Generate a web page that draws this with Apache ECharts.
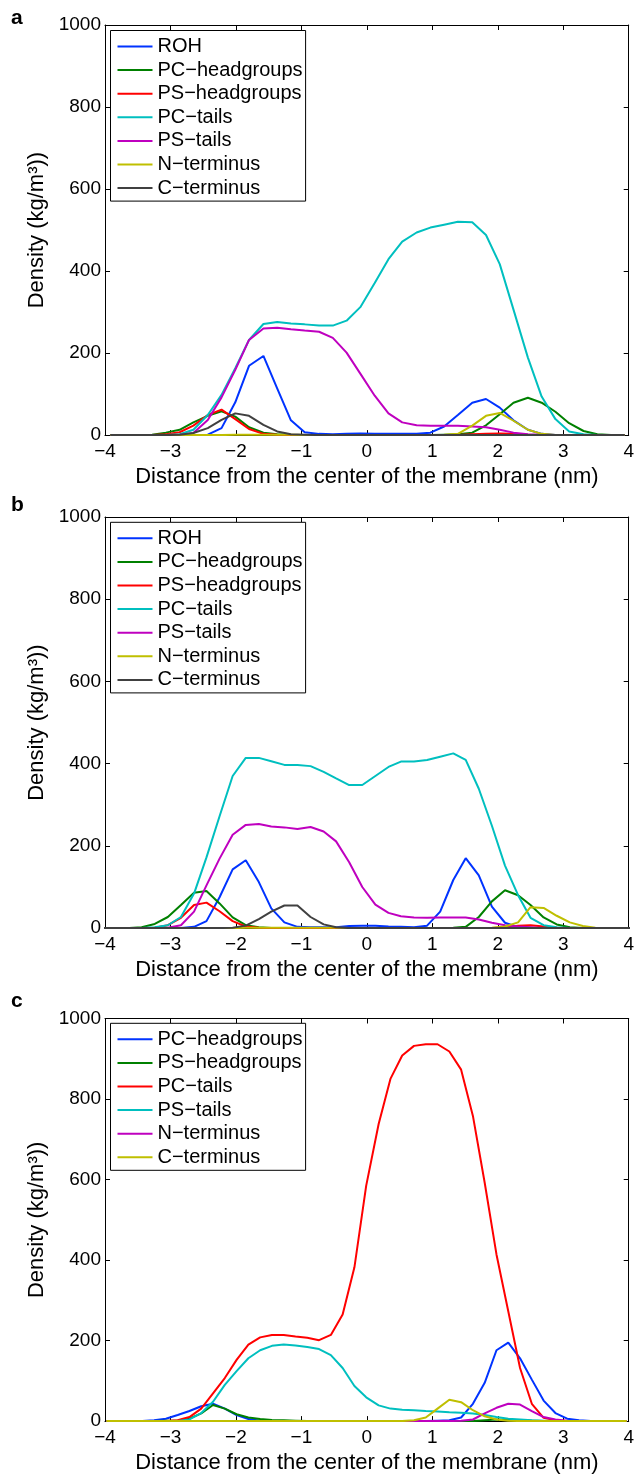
<!DOCTYPE html>
<html>
<head>
<meta charset="utf-8">
<script src="https://cdn.jsdelivr.net/npm/echarts@6/dist/echarts.min.js"></script>
<style>
  html, body { margin: 0; padding: 0; background: #fff; }
  .panel { position: absolute; left: 0; width: 637px; height: 493px; }
</style>
</head>
<body>
<div id="pa" class="panel" style="top:0"></div>
<div id="pb" class="panel" style="top:493px"></div>
<div id="pc" class="panel" style="top:986px"></div>
<script>
// ---- panel a ----
const xA = [-3.92, -3.71, -3.50, -3.28, -3.07, -2.86, -2.65, -2.43, -2.22, -2.01, -1.80, -1.58, -1.37, -1.16, -0.95, -0.73, -0.52, -0.31, -0.10, 0.12, 0.33, 0.54, 0.76, 0.97, 1.18, 1.39, 1.61, 1.82, 2.03, 2.24, 2.46, 2.67, 2.88, 3.09, 3.31, 3.52, 3.73, 3.94];
const rohA    = [0,0,0,0,0,0,0,1,17,80,169,193,114,36,7,3,2,3,4,3,3,3,3,6,21,49,79,88,67,36,13,3,0,0,0,0,0,0];
const pcHeadA = [0,0,0,1,6,13,31,47,58,45,19,6,2,0,0,0,0,0,0,0,0,0,0,0,1,2,6,24,51,79,91,79,57,29,10,2,0,0];
const psHeadA = [0,0,0,0,2,7,23,49,62,39,15,3,1,0,0,0,0,0,0,0,0,0,0,0,0,0,2,3,4,3,1,0,0,0,0,0,0,0];
const pcTailA = [0,0,0,0,0,2,13,49,98,163,232,271,276,272,270,267,267,279,312,371,429,472,494,506,513,520,519,488,417,306,189,94,39,9,2,0,0,0];
const psTailA = [0,0,0,0,0,0,5,37,92,159,232,260,262,258,255,252,237,201,150,96,53,31,24,23,23,23,21,19,13,6,2,1,0,0,0,0,0,0];
const nTermA  = [0,0,0,0,0,0,0,0,0,1,1,1,1,1,0,0,0,0,0,0,0,0,0,0,1,3,23,47,54,35,13,3,0,0,0,0,0,0];
const cTermA  = [0,0,0,0,0,1,5,17,37,53,47,25,9,2,1,0,0,0,0,0,0,0,0,0,0,0,0,0,0,0,0,0,0,0,0,0,0,0];

// ---- panel b ----
const xB = [-4.03, -3.83, -3.63, -3.44, -3.24, -3.04, -2.84, -2.64, -2.45, -2.25, -2.05, -1.85, -1.65, -1.46, -1.26, -1.06, -0.86, -0.66, -0.47, -0.27, -0.07, 0.13, 0.33, 0.52, 0.72, 0.92, 1.12, 1.32, 1.51, 1.71, 1.91, 2.11, 2.31, 2.50, 2.70, 2.90, 3.10, 3.30, 3.49, 3.69, 3.89, 4.09];
const rohB    = [0,0,0,0,0,0,0,3,17,75,143,165,112,48,14,3,2,2,2,5,6,6,4,3,2,6,40,117,170,128,52,13,2,0,0,0,0,0,0,0,0,0];
const pcHeadB = [0,0,0,2,10,27,56,86,90,60,26,7,2,0,0,0,0,0,0,0,0,0,0,0,0,0,0,1,3,27,65,92,80,56,26,9,2,0,0,0,0,0];
const psHeadB = [0,0,0,0,1,7,25,56,62,41,17,4,1,0,0,0,0,0,0,0,0,0,0,0,0,0,0,0,0,0,0,2,6,7,4,1,0,0,0,0,0,0];
const pcTailB = [0,0,0,0,2,7,27,84,172,272,370,414,414,406,397,397,394,380,364,348,348,370,392,405,405,409,417,425,409,339,249,152,80,25,7,2,0,0,0,0,0,0];
const psTailB = [0,0,0,0,0,1,7,40,104,169,227,251,253,247,245,241,246,235,211,160,100,57,37,29,26,25,26,26,26,21,13,7,4,2,0,0,0,0,0,0,0,0];
const nTermB  = [0,0,0,0,0,0,0,0,0,0,0,1,1,1,1,1,1,1,1,0,0,0,0,0,0,0,0,0,0,0,1,4,14,51,49,30,14,5,1,0,0,0];
const cTermB  = [0,0,0,0,0,0,0,0,0,0,1,6,22,40,55,55,27,9,2,0,0,0,0,0,0,0,0,0,0,0,0,0,0,0,0,0,0,0,0,0,0,0];

// ---- panel c ----
const xC = [-3.98, -3.80, -3.62, -3.43, -3.25, -3.07, -2.89, -2.71, -2.53, -2.35, -2.17, -1.99, -1.81, -1.63, -1.45, -1.27, -1.09, -0.91, -0.73, -0.55, -0.37, -0.19, -0.01, 0.18, 0.36, 0.54, 0.72, 0.90, 1.08, 1.26, 1.44, 1.62, 1.80, 1.98, 2.16, 2.34, 2.52, 2.70, 2.88, 3.06, 3.24, 3.42, 3.60, 3.79, 3.97];
const pcHeadC = [0,0,0,0,2,6,15,25,37,43,31,15,5,1,0,0,0,0,0,0,0,0,0,0,0,0,0,0,1,2,9,43,95,176,195,156,103,51,20,6,2,0,0,0,0];
const psHeadC = [0,0,0,0,0,1,1,6,19,40,31,17,9,5,3,2,1,0,0,0,0,0,0,0,0,0,0,0,0,0,0,0,2,4,3,2,1,0,0,0,0,0,0,0,0];
const pcTailC = [0,0,0,0,0,0,2,10,31,69,107,152,190,208,214,214,210,207,201,214,265,382,585,738,850,908,932,936,936,918,873,758,592,414,273,132,43,8,2,0,0,0,0,0,0];
const psTailC = [0,0,0,0,0,0,0,4,20,48,90,124,156,176,187,190,188,184,179,164,132,87,59,39,31,28,27,25,24,22,21,19,15,10,6,4,2,1,0,0,0,0,0,0,0];
const nTermC  = [0,0,0,0,0,0,0,0,0,0,0,0,0,0,0,0,0,0,0,0,0,0,0,0,0,0,0,0,0,0,1,4,19,33,43,41,25,10,4,1,0,0,0,0,0];
const cTermC  = [0,0,0,0,0,0,0,0,0,0,0,0,0,0,0,0,0,0,0,0,0,0,0,0,0,0,2,9,31,53,47,27,12,4,1,0,0,0,0,0,0,0,0,0,0];

const xTicks = [-4, -3, -2, -1, 0, 1, 2, 3, 4];
const yTicks = [0, 200, 400, 600, 800, 1000];

// MATLAB-like colour order
const C_BLUE = '#0033ff', C_GREEN = '#008000', C_RED = '#ff0000', C_CYAN = '#00bfbf',
      C_MAG = '#bf00bf', C_YEL = '#bfbf00', C_GRAY = '#404040';

const FONT = 'Liberation Sans, Arial, Helvetica, sans-serif';
const M = '\u2212';

function minus(v) {
	return String(v).replace('-', M);
}

function axisCommon() {
	return {
		axisLine: { onZero: false, lineStyle: { color: '#000', width: 1 } },
		axisTick: { inside: true, length: 5, lineStyle: { color: '#000', width: 1 } },
		splitLine: { show: false },
	};
}

function drawPanel(id, p) {
	let chart = echarts.init(document.getElementById(id));
	let xMin = xTicks[0], xMax = xTicks[xTicks.length - 1];
	let yMin = yTicks[0], yMax = yTicks[yTicks.length - 1];
	let option = {
		animation: false,
		textStyle: { fontFamily: FONT },
		grid: { left: 105, width: 524, top: p.top, height: p.height },
		xAxis: [
			Object.assign(axisCommon(), {
				type: 'value', min: xMin, max: xMax, interval: 1, position: 'bottom',
				axisLabel: { fontSize: 19, color: '#000', margin: 7, fontFamily: FONT, formatter: minus },
				name: 'Distance from the center of the membrane (nm)',
				nameLocation: 'middle', nameGap: 23,
				nameTextStyle: { fontSize: 22, color: '#000', fontFamily: FONT },
			}),
			Object.assign(axisCommon(), {
				type: 'value', min: xMin, max: xMax, interval: 1, position: 'top',
				axisLabel: { show: false },
			}),
		],
		yAxis: [
			Object.assign(axisCommon(), {
				type: 'value', min: yMin, max: yMax, interval: 200, position: 'left',
				axisLabel: { fontSize: 19, color: '#000', margin: 4, fontFamily: FONT, formatter: v => String(v) },
				name: 'Density (kg/m\u00b3))',
				nameLocation: 'middle', nameGap: 40, nameRotate: 90,
				nameTextStyle: { fontSize: 22, color: '#000', fontFamily: FONT },
			}),
			Object.assign(axisCommon(), {
				type: 'value', min: yMin, max: yMax, interval: 200, position: 'right',
				axisLabel: { show: false },
			}),
		],
		legend: {
			orient: 'vertical',
			left: 110.5,
			top: p.legendTop,
			icon: 'rect',
			itemWidth: 35,
			itemHeight: 2,
			itemGap: 3.6,
			padding: [6, 3, 3, 7],
			borderColor: '#000',
			borderWidth: 1,
			backgroundColor: '#fff',
			textStyle: { fontSize: 20, lineHeight: 20, color: '#000', fontFamily: FONT },
			data: p.series.map(s => s.name),
		},
		graphic: [
			{
				type: 'text', left: 11, top: p.letterTop,
				style: { text: p.letter, font: 'bold 21px ' + FONT, fill: '#000' },
			},
		],
		series: p.series.map(s => ({
			name: s.name,
			type: 'line',
			symbol: 'none',
			showSymbol: false,
			data: p.xs.map((x, i) => [x, s.values[i]]),
			lineStyle: { width: 2, color: s.color },
			itemStyle: { color: s.color },
			emphasis: { disabled: true },
		})),
	};
	chart.setOption(option);
}

drawPanel('pa', {
	letter: 'a', letterTop: 8, top: 25, height: 412, legendTop: 30.5, xs: xA,
	series: [
		{ name: 'ROH', values: rohA, color: C_BLUE },
		{ name: 'PC' + M + 'headgroups', values: pcHeadA, color: C_GREEN },
		{ name: 'PS' + M + 'headgroups', values: psHeadA, color: C_RED },
		{ name: 'PC' + M + 'tails', values: pcTailA, color: C_CYAN },
		{ name: 'PS' + M + 'tails', values: psTailA, color: C_MAG },
		{ name: 'N' + M + 'terminus', values: nTermA, color: C_YEL },
		{ name: 'C' + M + 'terminus', values: cTermA, color: C_GRAY },
	],
});

drawPanel('pb', {
	letter: 'b', letterTop: 2, top: 24, height: 413, legendTop: 29.3, xs: xB,
	series: [
		{ name: 'ROH', values: rohB, color: C_BLUE },
		{ name: 'PC' + M + 'headgroups', values: pcHeadB, color: C_GREEN },
		{ name: 'PS' + M + 'headgroups', values: psHeadB, color: C_RED },
		{ name: 'PC' + M + 'tails', values: pcTailB, color: C_CYAN },
		{ name: 'PS' + M + 'tails', values: psTailB, color: C_MAG },
		{ name: 'N' + M + 'terminus', values: nTermB, color: C_YEL },
		{ name: 'C' + M + 'terminus', values: cTermB, color: C_GRAY },
	],
});

drawPanel('pc', {
	letter: 'c', letterTop: 5, top: 32.5, height: 412.5, legendTop: 37.3, xs: xC,
	series: [
		{ name: 'PC' + M + 'headgroups', values: pcHeadC, color: C_BLUE },
		{ name: 'PS' + M + 'headgroups', values: psHeadC, color: C_GREEN },
		{ name: 'PC' + M + 'tails', values: pcTailC, color: C_RED },
		{ name: 'PS' + M + 'tails', values: psTailC, color: C_CYAN },
		{ name: 'N' + M + 'terminus', values: nTermC, color: C_MAG },
		{ name: 'C' + M + 'terminus', values: cTermC, color: C_YEL },
	],
});
</script>
</body>
</html>
